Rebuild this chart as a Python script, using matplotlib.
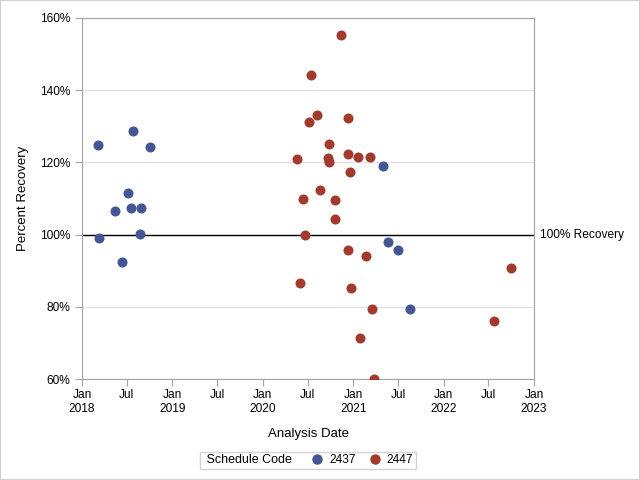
import matplotlib
matplotlib.use("Agg")
import matplotlib.pyplot as plt
import matplotlib.dates as mdates
from matplotlib.lines import Line2D
from matplotlib.offsetbox import HPacker
from matplotlib.patches import Rectangle
import numpy as np

plt.rcParams['font.family'] = ['Liberation Sans', 'DejaVu Sans']

# schedule 2437
dates_2437 = ['2018-03-08', '2018-03-12', '2018-05-15', '2018-06-11', '2018-07-07',
              '2018-07-19', '2018-07-27', '2018-08-22', '2018-08-28', '2018-10-01',
              '2021-05-01', '2021-05-21', '2021-06-30', '2021-08-18']
rec_2437 = [124.7, 99.0, 106.4, 92.4, 111.4, 107.3, 128.6, 100.3, 107.3, 124.2,
            119.0, 97.9, 95.7, 79.3]

# schedule 2447
dates_2447 = ['2020-11-12', '2020-07-13', '2020-08-06', '2020-07-06', '2020-12-09',
              '2020-09-25', '2020-05-19', '2020-09-20', '2020-09-25', '2020-12-09',
              '2021-01-19', '2021-03-09', '2020-12-17', '2020-08-18', '2020-06-11',
              '2020-10-19', '2020-10-19', '2020-06-20', '2020-12-11', '2021-02-21',
              '2020-05-30', '2020-12-21', '2022-09-29', '2021-03-19', '2022-07-23',
              '2021-01-27', '2021-03-24']
rec_2447 = [155.4, 144.1, 133.0, 131.1, 132.2, 125.0, 120.9, 121.3, 120.0, 122.3,
            121.5, 121.5, 117.3, 112.3, 109.8, 109.6, 104.3, 99.8, 95.6, 94.0,
            86.5, 85.1, 90.7, 79.3, 76.2, 71.3, 59.9]

tick_dates = ['2018-01-01', '2018-07-01', '2019-01-01', '2019-07-01', '2020-01-01',
              '2020-07-01', '2021-01-01', '2021-07-01', '2022-01-01', '2022-07-01',
              '2023-01-01']
tick_labels = ['Jan\n2018', 'Jul', 'Jan\n2019', 'Jul', 'Jan\n2020', 'Jul',
               'Jan\n2021', 'Jul', 'Jan\n2022', 'Jul', 'Jan\n2023']
y_ticks = [60, 80, 100, 120, 140, 160]

blue = '#445694'
red = '#A23A2E'
axcol = '#A0A3A8'

fig = plt.figure(figsize=(6.4, 4.8), dpi=100)
ax = fig.add_axes([82/640, 1-379/480, 452/640, 361/480])

to_dt = lambda d: np.array(d, dtype='datetime64[D]')

ax.scatter(to_dt(dates_2437), rec_2437, s=52, color=blue, zorder=3, linewidths=0)
ax.scatter(to_dt(dates_2447), rec_2447, s=52, color=red, zorder=3, linewidths=0)

ax.axhline(100, color='black', lw=1, zorder=2)
ax.text(1 + 6/452, 100, '100% Recovery', transform=ax.get_yaxis_transform(),
        va='center', ha='left', fontsize=8.6)

ax.set_ylim(60, 160)
ax.set_yticks(y_ticks)
ax.set_yticklabels([f'{v}%' for v in y_ticks])
ax.set_xlim(to_dt(tick_dates[0]), to_dt(tick_dates[-1]))
ax.set_xticks(mdates.date2num(to_dt(tick_dates)))
ax.set_xticklabels(tick_labels, va='top')
ax.yaxis.grid(True, color='#E2E2E2', lw=1)
ax.set_axisbelow(True)

for s in ax.spines.values():
    s.set_color(axcol)
ax.tick_params(colors=axcol, labelcolor='black', labelsize=8.6, length=5)
ax.tick_params(axis='x', pad=2)

ax.set_ylabel('Percent Recovery', fontsize=9.5, labelpad=8)
ax.set_xlabel('Analysis Date', fontsize=9.5, labelpad=10)

handles = [Line2D([], [], ls='none', marker='o', ms=6.5, color=blue),
           Line2D([], [], ls='none', marker='o', ms=6.5, color=red)]
leg = fig.legend(handles, ['2437', '2447'], title=' Schedule Code', ncol=2,
                 loc='lower center', bbox_to_anchor=(308/640, 11/480),
                 fontsize=8.6, title_fontsize=9, frameon=True, fancybox=False,
                 edgecolor='#C8C8C8', handlelength=0.8, handletextpad=0.6,
                 columnspacing=1.2, borderpad=0.22, borderaxespad=0)
leg.get_frame().set_linewidth(1)
# put the title to the left of the entries
leg._legend_box.__class__ = HPacker
leg._legend_box.sep = 15

fig.patches.append(Rectangle((0, 0), 1, 1, transform=fig.transFigure, fill=False,
                             edgecolor='#D0D0D0', lw=1.5))

fig.savefig('out.png', dpi=100)
